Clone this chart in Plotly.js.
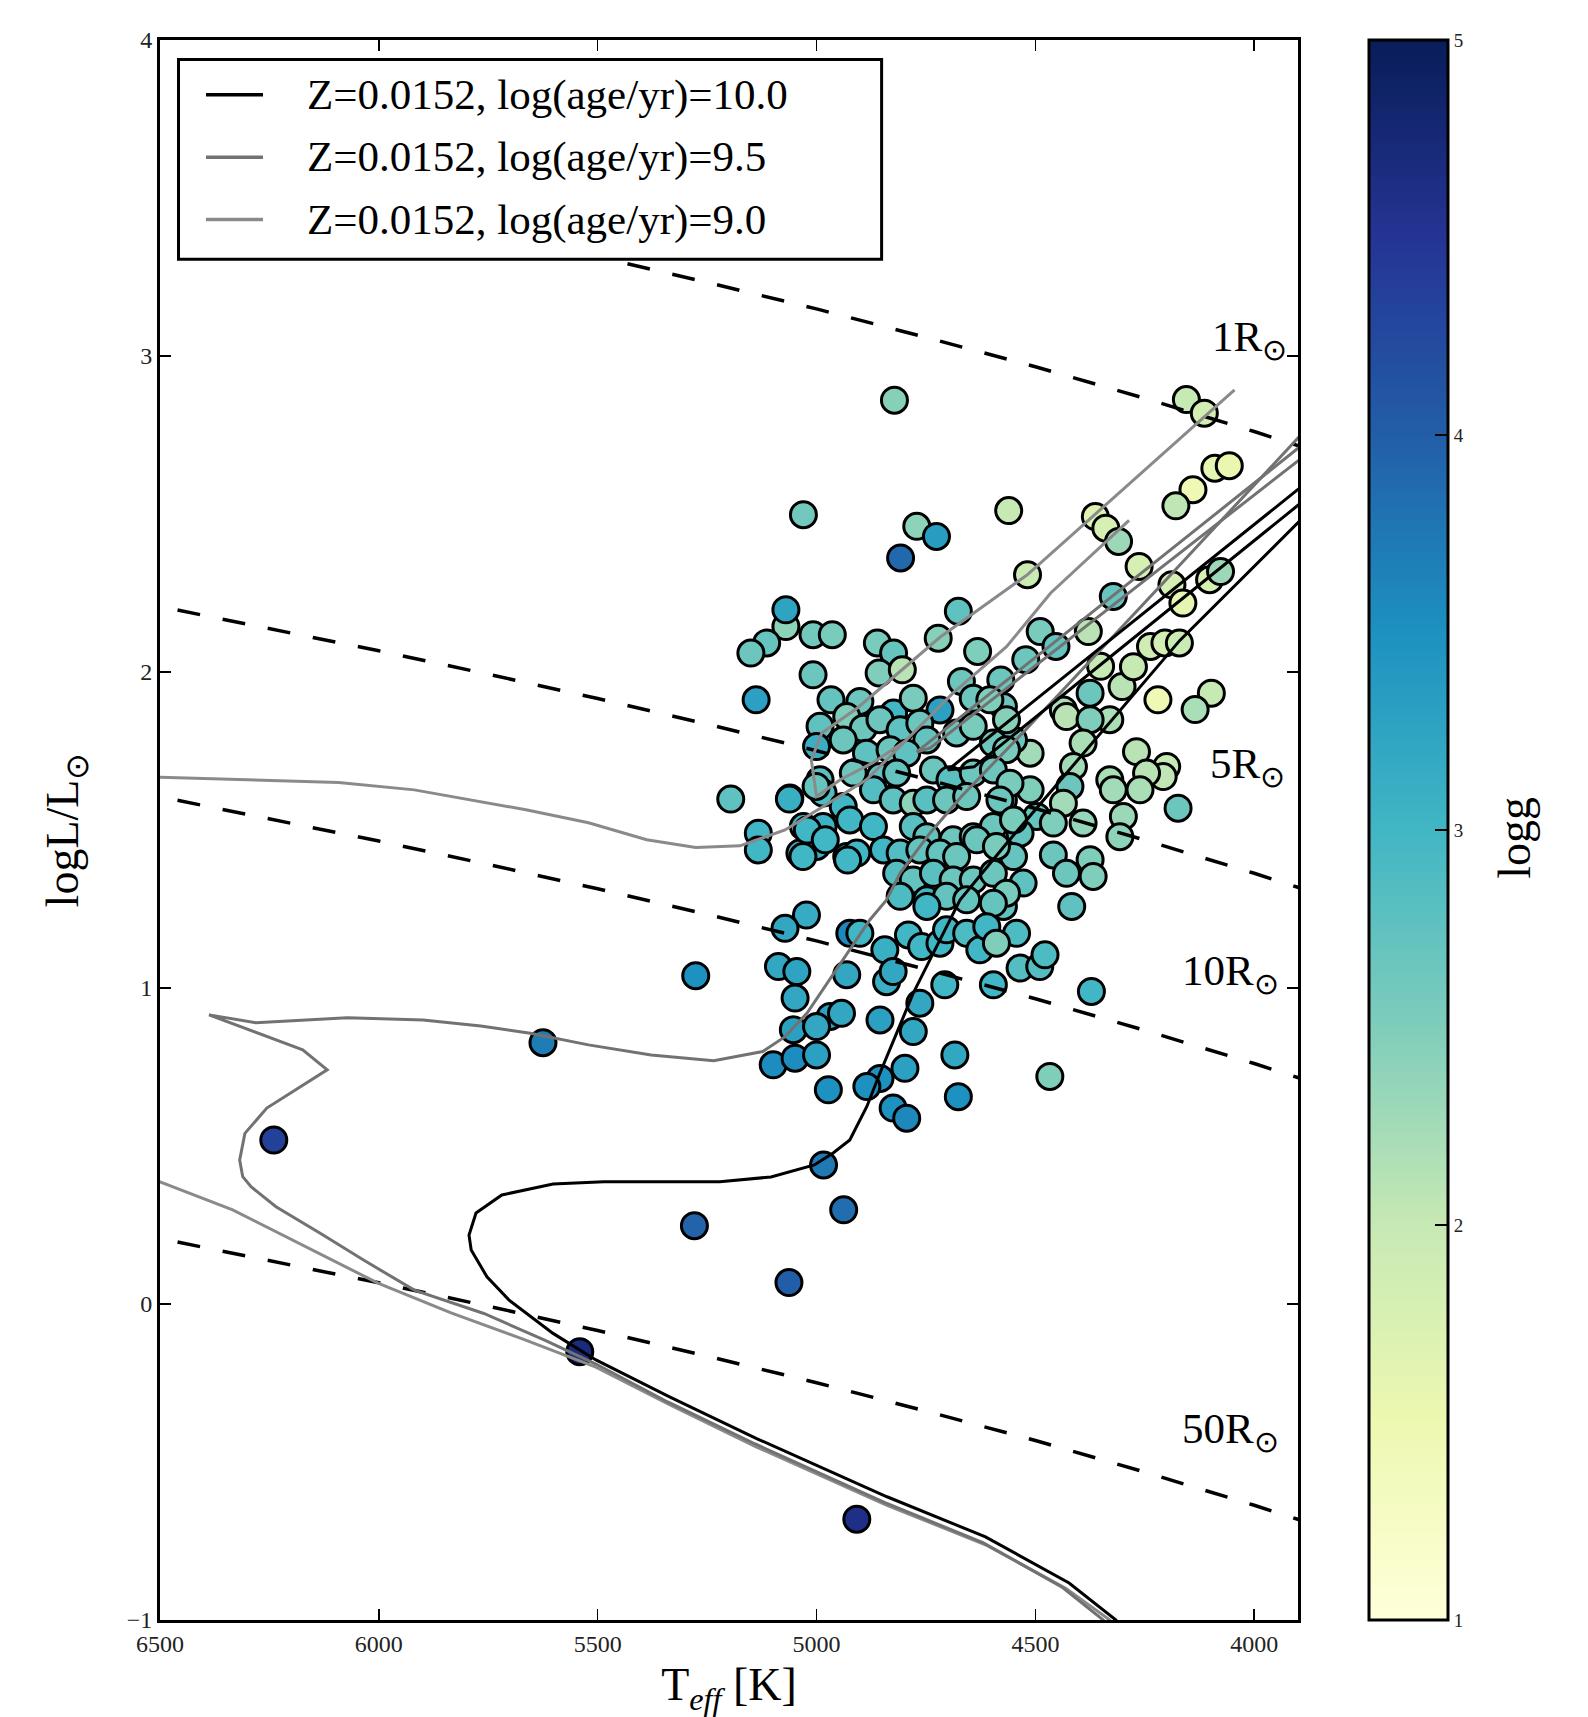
<!DOCTYPE html>
<html><head><meta charset="utf-8">
<script src="https://cdn.plot.ly/plotly-3.0.1.min.js"></script>
<style>body{margin:0;background:#fff}#chart{width:1588px;height:1717px}</style>
</head><body><div id="chart"></div>
<script>
// ---- Stars: effective temperature, log luminosity, surface gravity ----
const starTeff = [
6240,5625,5276,5279,5063,5541,4908,4938,4984,
4822,4155,4114,4090,4057,4140,4179,5030,4771,4726,4808,4561,4363,4339,4310,4518,4263,4322,4188,4163,4102,4077,5070,5070,5114,5150,5008,4964,4676,4722,4489,4453,4379,4632,4522,4237,4204,4171,4861,4824,4669,4579,4351,4302,5008,5138,4857,4804,4220,4098,4135,4967,4824,
4276,4375,4436,4429,4330,4375,4512,4550,4573,4391,4413,4269,4200,4208,4246,4330,4322,4261,4421,4436,4299,4391,4307,4174,4497,4459,4535,4573,4550,4528,4573,4543,4459,4429,4375,4368,4417,4512,
4901,4779,4718,4642,4604,4566,4992,4931,4893,4855,4809,4764,4748,4680,4642,4596,4566,5000,4939,4886,4832,4794,4992,4916,4855,4817,4733,4695,4642,4596,4558,5061,4985,4939,4870,4825,4779,4748,4703,4657,4581,5030,4985,4924,4870,4779,4748,4688,4642,4596,4550,5038,5000,4931,4908,4847,4809,4764,4718,4680,4634,4589,4817,4779,4733,4688,4642,4596,4566,4809,4748,4703,4657,4596,
5023,5072,4924,4901,4844,4790,4760,4748,4718,4703,4657,4627,4611,4589,4535,4490,4478,4372,4467,5087,5045,4931,4840,4825,4707,4596,5049,4764,4779,4855,4969,4943,5053,5000,5099,5049,5000,4684,4798,4855,4885,4973,4676,4825,4794,
5196,5062,5133,5133,5021,5031,4980,5001,4929
];
const starLogL = [
0.519,0.827,1.039,0.248,0.068,-0.151,-0.681,0.298,0.44,
2.860,2.862,2.819,2.645,2.653,2.577,2.526,2.498,2.461,2.429,2.361,2.511,2.492,2.455,2.413,2.308,2.334,2.239,2.276,2.218,2.292,2.318,2.144,2.197,2.092,2.060,2.118,2.118,2.192,2.107,2.128,2.081,2.128,2.065,2.039,2.081,2.092,2.092,2.092,2.060,1.970,1.975,2.018,1.954,1.991,1.912,1.997,2.007,1.912,1.933,1.881,1.912,1.870,
2.017,1.933,1.880,1.859,1.849,1.849,1.743,1.785,1.891,1.775,1.701,1.748,1.701,1.669,1.680,1.659,1.627,1.627,1.638,1.585,1.543,1.522,1.479,1.569,1.543,1.522,1.490,1.595,1.416,1.332,1.258,1.173,1.421,1.363,1.406,1.353,1.258,1.627,
1.907,1.917,1.880,1.917,1.912,1.849,1.828,1.859,1.822,1.849,1.817,1.838,1.785,1.807,1.828,1.775,1.754,1.764,1.785,1.743,1.754,1.743,1.659,1.680,1.669,1.680,1.690,1.659,1.680,1.690,1.648,1.601,1.617,1.574,1.627,1.595,1.585,1.595,1.595,1.606,1.595,1.511,1.511,1.532,1.511,1.511,1.479,1.469,1.479,1.511,1.532,1.427,1.448,1.416,1.427,1.437,1.427,1.437,1.427,1.416,1.469,1.448,1.363,1.342,1.363,1.342,1.342,1.363,1.300,1.290,1.279,1.290,1.279,1.268,
1.231,1.189,1.173,1.173,1.121,1.168,1.131,1.258,1.142,1.184,1.173,1.121,1.194,1.142,1.063,1.068,1.105,0.989,0.720,1.068,1.052,1.042,1.020,1.052,1.010,1.010,0.968,0.952,0.862,0.899,0.910,0.920,0.868,0.878,0.757,0.778,0.788,0.788,0.746,0.714,0.688,0.678,0.656,0.620,0.588,
1.598,1.598,1.490,1.437,1.500,1.416,1.469,1.638,1.405
];
const starLogg = [
4.35,3.7,3.5,3.95,4.0,4.7,4.6,3.85,3.75,
2.45,2.0,1.85,1.6,1.55,1.45,2.05,2.6,2.4,3.35,3.9,2.0,1.7,1.8,2.3,1.95,1.8,2.7,1.8,1.6,1.8,2.3,2.4,3.25,2.7,2.65,2.6,2.55,2.75,2.45,2.55,2.72,2.1,2.5,2.65,1.9,1.85,1.95,2.55,2.7,2.65,2.65,2.0,2.1,2.65,3.3,2.5,2.1,1.45,2.0,2.2,2.72,3.0,
2.0,2.65,2.2,2.1,2.2,2.5,2.25,2.65,2.65,2.2,2.25,2.1,2.0,2.05,2.1,2.2,2.25,2.2,2.65,2.25,2.3,2.35,2.4,2.65,2.7,2.5,2.72,2.7,2.7,2.75,2.75,2.9,2.65,2.65,2.5,2.5,2.75,2.5,
2.65,2.55,3.3,2.65,2.5,2.45,2.75,2.5,2.65,2.65,2.75,2.65,2.72,2.65,2.55,2.65,2.55,3.1,2.65,2.75,2.65,2.75,2.8,2.65,2.75,2.72,2.65,2.8,2.65,2.65,2.55,3.1,2.9,3.0,2.85,2.75,2.4,2.8,2.65,2.65,2.65,3.0,3.05,3.0,3.0,2.8,2.72,2.65,2.65,2.65,2.55,3.0,3.05,3.0,3.0,3.0,2.85,2.72,2.7,2.65,2.65,2.55,2.85,2.72,2.8,2.65,2.65,2.65,2.55,2.9,3.0,2.72,2.7,2.7,
3.15,3.2,3.6,3.0,3.1,3.0,3.0,3.0,3.0,3.0,2.9,3.0,3.0,2.5,2.85,2.85,2.9,3.0,2.5,3.2,3.25,3.2,3.1,3.2,3.0,3.0,3.2,3.2,3.2,3.3,3.3,3.2,3.3,3.2,3.55,3.55,3.3,3.2,3.3,3.5,3.5,3.5,3.5,3.5,3.6,
2.75,3.1,3.0,3.0,3.0,3.0,3.0,2.7,3.0
];

// ---- Isochrones (segments separated by null) ----
const iso100T = [4290,4316,4423,4614,4839,5138,5337,5504,5602,5703,5753,5789,5794,5778,5719,5602,5486,5221,5104,5005,4962,4924,4885,4855,4817,4779,4737,4695,4672,4565,4400,4170,3880,null,3880,4700,4640,3880];
const iso100L = [-1.06,-1.0,-0.883,-0.737,-0.61,-0.425,-0.293,-0.177,-0.093,0.013,0.086,0.171,0.218,0.288,0.345,0.38,0.387,0.387,0.402,0.44,0.478,0.519,0.625,0.731,0.857,0.984,1.1,1.216,1.279,1.459,1.727,2.10,2.50,null,2.60,1.69,1.70,2.55];

const iso95T = [4318,4345,4440,4620,4845,5140,5340,5504,5620,5760,5919,6035,6134,6235,6292,6311,6318,6306,6256,6118,6174,6388,6281,6072,5899,5767,5654,5521,5378,5235,5123,5072,5022,4970,4924,4878,4840,4809,4741,4669,4522,4359,4196,3880,null,3880,4771,4740,3880];
const iso95L = [-1.06,-1.0,-0.895,-0.755,-0.628,-0.443,-0.31,-0.19,-0.115,-0.03,0.044,0.139,0.224,0.308,0.371,0.403,0.456,0.540,0.62,0.741,0.804,0.915,0.89,0.906,0.899,0.88,0.857,0.82,0.788,0.77,0.799,0.846,0.92,1.026,1.12,1.216,1.279,1.364,1.49,1.606,1.817,2.06,2.30,2.77,null,2.73,1.747,1.76,2.69];

const iso90T = [4305,4330,4430,4614,4839,5138,5337,5504,5669,5835,6002,6168,6334,6520,null,6520,6092,5919,5786,5664,5521,5388,5276,5175,5072,4970,4886,4817,4749,4688,4627,4566,4465,4286,null,4794,4871,4946,5000,5012,4988,4906,4718,4518,4045];
const iso90L = [-1.06,-1.0,-0.9,-0.762,-0.637,-0.452,-0.318,-0.2,-0.112,-0.028,0.066,0.181,0.298,0.397,null,1.668,1.65,1.627,1.595,1.564,1.523,1.469,1.445,1.45,1.5,1.586,1.659,1.754,1.849,1.934,2.007,2.08,2.25,2.48,null,1.785,1.713,1.659,1.606,1.722,1.807,1.887,2.11,2.308,2.893];

const isoNames = ['Z=0.0152, log(age/yr)=10.0','Z=0.0152, log(age/yr)=9.5','Z=0.0152, log(age/yr)=9.0'];
const isoColors = ['#000000','#727272','#8a8a8a'];

// ---- Constant-radius lines ----
const radT = [6460,6250,6000,5750,5500,5250,5000,4750,4500,4250,4000,3850];
const radL1  = [0.196,0.138,0.067,-0.007,-0.084,-0.165,-0.249,-0.339,-0.432,-0.532,-0.637,-0.704];
const radL5  = [1.594,1.536,1.465,1.391,1.314,1.233,1.149,1.059,0.966,0.866,0.761,0.694];
const radL10 = [2.196,2.138,2.067,1.993,1.916,1.835,1.751,1.661,1.568,1.468,1.363,1.296];
const radL50 = [3.594,3.536,3.465,3.391,3.314,3.233,3.149,3.059,2.966,2.866,2.761,2.694];
const radLabels = ['1R<sub>⊙</sub>','5R<sub>⊙</sub>','10R<sub>⊙</sub>','50R<sub>⊙</sub>'];
const radLabelT = [3921,3925,3939,3939];
const radLabelL = [3.05,1.70,1.045,-0.405];

const xTicks = [6500,6000,5500,5000,4500,4000];
const yTicks = [-1,0,1,2,3,4];
const cbTicks = [1,2,3,4,5];

const FONT = 'Liberation Serif, Times New Roman, serif';
const ylgnbu = [[0,'#ffffd9'],[0.125,'#edf8b1'],[0.25,'#c7e9b4'],[0.375,'#7fcdbb'],[0.5,'#41b6c4'],[0.625,'#1d91c0'],[0.75,'#225ea8'],[0.875,'#253494'],[1,'#081d58']];

const traces = [];
traces.push({
  type:'scatter', mode:'markers', x:starTeff, y:starLogL, showlegend:false, name:'stars',
  marker:{size:26, color:starLogg, cmin:1, cmax:5, colorscale:ylgnbu, showscale:true,
    line:{color:'black', width:3},
    colorbar:{x:1.0624, xanchor:'left', y:0.5, yanchor:'middle', len:1, lenmode:'fraction',
      thickness:79, thicknessmode:'pixels', xpad:0, ypad:0, outlinewidth:3, outlinecolor:'black',
      tickmode:'array', tickvals:cbTicks, ticktext:cbTicks.map(String), ticks:'inside', ticklen:14,
      tickwidth:1.5, tickcolor:'black', tickfont:{family:FONT, size:19, color:'#222'}, borderwidth:0}
  },
  hoverinfo:'skip'
});
[radL1, radL5, radL10, radL50].forEach(function(L){
  traces.push({type:'scatter', mode:'lines', x:radT, y:L, showlegend:false, hoverinfo:'skip',
    line:{color:'black', width:3.5, dash:'23px,23px'}});
});
const isoT = [iso100T, iso95T, iso90T];
const isoL = [iso100L, iso95L, iso90L];
for (let i = 2; i >= 0; i--) {
  traces.push({type:'scatter', mode:'lines', x:isoT[i], y:isoL[i], name:isoNames[i],
    showlegend:false, connectgaps:false, hoverinfo:'skip',
    line:{color:isoColors[i], width:3}});
}

// ---- Legend box (drawn in paper space) ----
const legX0 = 0.01626, legX1 = 0.6341, legY0 = 0.86128, legY1 = 0.98765;
const legRowY = [0.96529, 0.92578, 0.88633];
const legLineX = [0.04042, 0.09051];
const legTextX = 0.12698;

const shapes = [{type:'rect', xref:'paper', yref:'paper', x0:legX0, x1:legX1, y0:legY0, y1:legY1,
  fillcolor:'white', line:{color:'black', width:3}, layer:'above'}];
isoNames.forEach(function(n, i){
  shapes.push({type:'line', xref:'paper', yref:'paper', x0:legLineX[0], x1:legLineX[1],
    y0:legRowY[i], y1:legRowY[i], line:{color:isoColors[i], width:3.5}, layer:'above'});
});

const annotations = radLabels.map(function(t, i){
  return {xref:'x', yref:'y', x:radLabelT[i], y:radLabelL[i], text:t, showarrow:false,
    xanchor:'right', yanchor:'middle', font:{family:FONT, size:43, color:'black'}};
});
isoNames.forEach(function(n, i){
  annotations.push({xref:'paper', yref:'paper', x:legTextX, y:legRowY[i], text:n, showarrow:false,
    xanchor:'left', yanchor:'middle', font:{family:FONT, size:43, color:'black'}});
});
annotations.push({xref:'paper', yref:'paper', x:1.1907, y:0.4951, text:'logg', showarrow:false,
  textangle:-90, xanchor:'center', yanchor:'middle', font:{family:FONT, size:46, color:'black'}});

const axisCommon = {showgrid:false, zeroline:false, showline:true, linecolor:'black', linewidth:3,
  mirror:'ticks', ticks:'inside', ticklen:11, tickwidth:1.5, tickcolor:'black',
  tickfont:{family:FONT, size:24, color:'#222'}};

const layout = {
  width:1588, height:1717,
  margin:{l:160, r:290, t:40, b:97, pad:0},
  paper_bgcolor:'white', plot_bgcolor:'white',
  font:{family:FONT, color:'black'},
  showlegend:false,
  xaxis:Object.assign({}, axisCommon, {range:[6500,3900], tickmode:'array', tickvals:xTicks,
    title:{text:'T<sub><i>eff</i></sub> [K]', font:{family:FONT, size:46, color:'black'}, standoff:21}}),
  yaxis:Object.assign({}, axisCommon, {range:[-1,4], tickmode:'array', tickvals:yTicks,
    title:{text:'logL/L<sub>⊙</sub>', font:{family:FONT, size:46, color:'black'}, standoff:34}}),
  shapes:shapes,
  annotations:annotations
};

Plotly.newPlot('chart', traces, layout, {displayModeBar:false, staticPlot:true});
</script></body></html>
